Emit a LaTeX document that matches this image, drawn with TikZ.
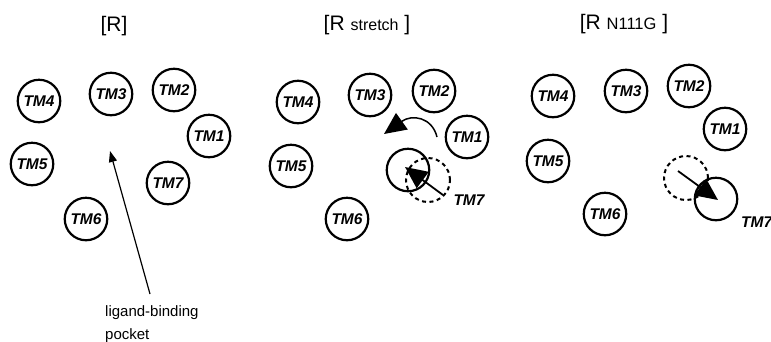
\documentclass[tikz,border=0pt]{standalone}
\usepackage{fontspec}
\setmainfont{Liberation Sans}
\usetikzlibrary{arrows.meta}
\begin{document}
\begin{tikzpicture}[x=1pt,y=-1pt,
  tm/.style={circle,draw,line width=2.2pt,minimum size=42.5pt,inner sep=0pt,
    font=\fontsize{15.5}{15.5}\selectfont\bfseries\itshape},
  ghost/.style={circle,draw,line width=2pt,dash pattern=on 4pt off 3.5pt,minimum size=44pt,inner sep=0pt},
  tmlab/.style={font=\fontsize{15.5}{15.5}\selectfont\bfseries\itshape,inner sep=0pt},
  ttl/.style={anchor=base,inner sep=0pt,font=\fontsize{21}{21}\selectfont},
  bigarr/.style={line width=1.8pt,-{Triangle[length=22pt,width=20pt]}},
  thinarr/.style={line width=1.2pt,-{Triangle[length=11pt,width=8pt]}},
  plain/.style={font=\fontsize{15}{15}\selectfont,inner sep=0pt,anchor=base west}]
\useasboundingbox (0,0) rectangle (771,341);
% ---------- panel 1 ----------
\node[ttl] (t1) at (114,31) {[R]};
\node[tm] (a4) at (39,101) {TM4};
\node[tm] (a3) at (111,94) {TM3};
\node[tm] (a2) at (174,90) {TM2};
\node[tm] (a1) at (209,136) {TM1};
\node[tm] (a5) at (32,164) {TM5};
\node[tm] (a7) at (168,183) {TM7};
\node[tm] (a6) at (86,219) {TM6};
\node[plain] (lig) at (105,316) {ligand-binding};
\node[plain] (poc) at (105,339) {pocket};
\coordinate (pstart) at (150,294);
\coordinate (pend) at (110,151);
\draw[thinarr] (pstart) -- (pend);
% ---------- panel 2 ----------
\node[ttl] (t2) at (367,30) {[R {\fontsize{16}{16}\selectfont stretch} ]};
\node[tm] (b4) at (298,102) {TM4};
\node[tm] (b3) at (370,95) {TM3};
\node[tm] (b2) at (434,91) {TM2};
\node[tm] (b1) at (467,137) {TM1};
\node[tm] (b5) at (291,166) {TM5};
\node[tm] (b6) at (347,219) {TM6};
\node[tm] (b7) at (408,170) {};
\node[ghost] (b7g) at (428,180) {};
\node[tmlab] (b7l) at (469,200) {TM7};
\coordinate (bs) at (443,195);
\coordinate (be) at (405,167);
\draw[bigarr] (bs) -- (be);
\coordinate (cs) at (437,137);
\coordinate (ce) at (384,134);
\draw[bigarr,line width=1.5pt] (cs) .. controls (432,117) and (412,114) .. (ce);
% ---------- panel 3 ----------
\node[ttl] (t3) at (624,29) {[R {\fontsize{16.5}{16.5}\selectfont N111G} ]};
\node[tm] (c4) at (553,96) {TM4};
\node[tm] (c3) at (626,91) {TM3};
\node[tm] (c2) at (689,86) {TM2};
\node[tm] (c1) at (725,129) {TM1};
\node[tm] (c5) at (548,161) {TM5};
\node[tm] (c6) at (605,214) {TM6};
\node[ghost] (c7g) at (686,178) {};
\node[tm] (c7) at (716,199) {};
\node[tmlab,anchor=west] (c7l) at (741,222) {TM7};
\coordinate (ds) at (678,171);
\coordinate (de) at (718,200);
\draw[bigarr] (ds) -- (de);
\end{tikzpicture}
\end{document}
